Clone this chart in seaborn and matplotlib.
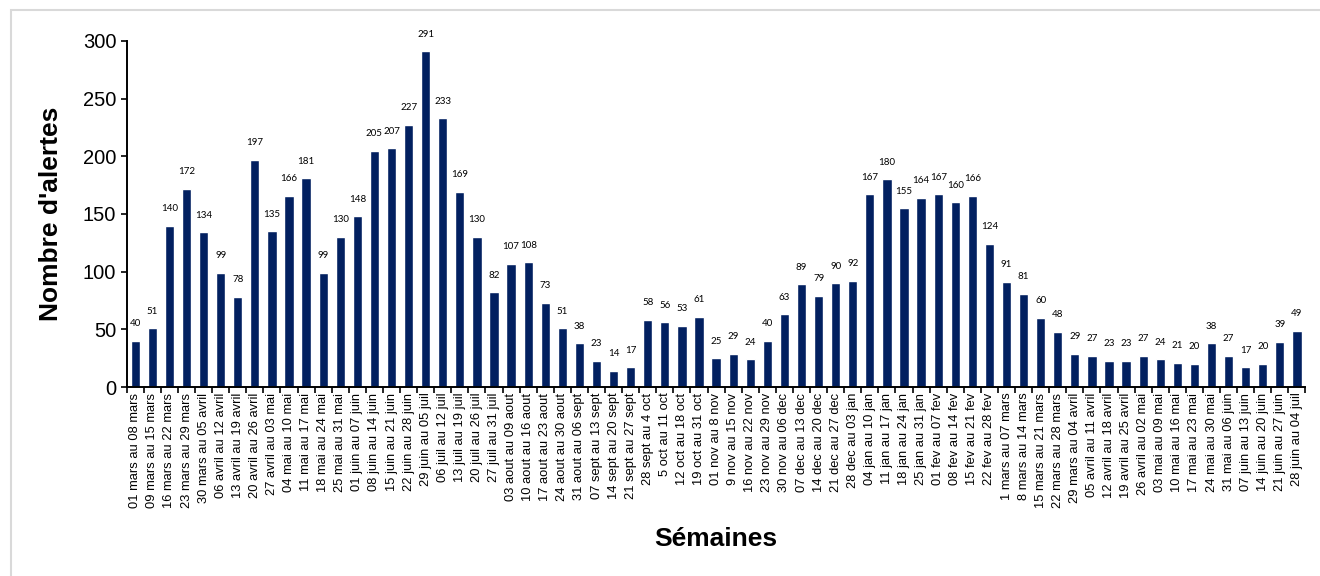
import numpy as np
import pandas as pd
import matplotlib.pyplot as plt
from matplotlib.patches import Rectangle
import seaborn as sns

semaines = [
    "01 mars au 08 mars", "09 mars au 15 mars", "16 mars au 22 mars", "23 mars au 29 mars",
    "30 mars au 05 avril", "06 avril au 12 avril", "13 avril au 19 avril", "20 avril au 26 avril",
    "27 avril au 03 mai", "04 mai au 10 mai", "11 mai au 17 mai", "18 mai au 24 mai",
    "25 mai au 31 mai", "01 juin au 07 juin", "08 juin au 14 juin", "15 juin au 21 juin",
    "22 juin au 28 juin", "29 juin au 05 juil", "06 juil au 12 juil", "13 juil au 19 juil",
    "20 juil au 26 juil", "27 juil au 31 juil", "03 aout au 09 aout", "10 aout au 16 aout",
    "17 aout au 23 aout", "24 aout au 30 aout", "31 aout au 06 sept", "07 sept au 13 sept",
    "14 sept au 20 sept", "21 sept au 27 sept", "28 sept au 4 oct", "5 oct au 11 oct",
    "12 oct au 18 oct", "19 oct au 31 oct", "01 nov au 8 nov", "9 nov au 15 nov",
    "16 nov au 22 nov", "23 nov au 29 nov", "30 nov au 06 dec", "07 dec au 13 dec",
    "14 dec au 20 dec", "21 dec au 27 dec", "28 dec au 03 jan", "04 jan au 10 jan",
    "11 jan au 17 jan", "18 jan au 24 jan", "25 jan au 31 jan", "01 fev au 07 fev",
    "08 fev au 14 fev", "15 fev au 21 fev", "22 fev au 28 fev", "1 mars au 07 mars",
    "8 mars au 14 mars", "15 mars au 21 mars", "22 mars au 28 mars", "29 mars au 04 avril",
    "05 avril au 11 avril", "12 avril au 18 avril", "19 avril au 25 avril", "26 avril au 02 mai",
    "03 mai au 09 mai", "10 mai au 16 mai", "17 mai au 23 mai", "24 mai au 30 mai",
    "31 mai au 06 juin", "07 juin au 13 juin", "14 juin au 20 juin", "21 juin au 27 juin",
    "28 juin au 04 juil",
]
alertes = [
    40, 51, 140, 172, 134, 99, 78, 197, 135, 166, 181, 99, 130, 148, 205, 207, 227, 291,
    233, 169, 130, 82, 107, 108, 73, 51, 38, 23, 14, 17, 58, 56, 53, 61, 25, 29, 24, 40,
    63, 89, 79, 90, 92, 167, 180, 155, 164, 167, 160, 166, 124, 91, 81, 60, 48, 29, 27,
    23, 23, 27, 24, 21, 20, 38, 27, 17, 20, 39, 49,
]

df = pd.DataFrame({"semaine": semaines, "alertes": alertes})

sns.set_style("white")
plt.rcParams["font.family"] = ["Liberation Sans", "DejaVu Sans"]
plt.rcParams["text.color"] = "black"
plt.rcParams["axes.labelcolor"] = "black"
plt.rcParams["xtick.color"] = "black"
plt.rcParams["ytick.color"] = "black"

fig = plt.figure(figsize=(13.2, 5.76), dpi=100)
ax = fig.add_axes([0.096, 0.328, 0.893, 0.601])

sns.barplot(data=df, x="semaine", y="alertes", color="#022060", width=0.54,
            saturation=1, ax=ax)

# etiquettes de valeur au-dessus des barres
for i, v in enumerate(alertes):
    ax.text(i, v + 11, str(v), ha="center", va="bottom", fontsize=7,
            family=["Lato", "DejaVu Sans"], color="black")

ax.set_xlim(-0.5, len(semaines) - 0.5)
ax.set_ylim(0, 300)
ax.set_yticks(range(0, 301, 50))
ax.tick_params(axis="y", labelsize=14.5, length=4, direction="out", left=True, width=1.2)
ax.set_xticks(range(len(semaines)))
ax.set_xticklabels(semaines, rotation=90, fontsize=9.3)
ax.tick_params(axis="x", which="major", length=0, pad=4)
ax.set_xticks(np.arange(-0.5, len(semaines), 1), minor=True)
ax.tick_params(axis="x", which="minor", length=4, bottom=True, direction="out", width=1.2)

for s in ["top", "right"]:
    ax.spines[s].set_visible(False)
for s in ["left", "bottom"]:
    ax.spines[s].set_color("black")
    ax.spines[s].set_linewidth(1.4)

ax.set_ylabel("Nombre d'alertes", fontsize=19, fontweight="bold", labelpad=14)
ax.set_xlabel("Sémaines", fontsize=19, fontweight="bold", labelpad=14)

fig.patches.append(Rectangle((0.008, -0.05), 1.1, 1.033, transform=fig.transFigure,
                             fill=False, edgecolor="#d9d9d9", linewidth=1.5))

fig.savefig("out.png", dpi=100, facecolor="white")
